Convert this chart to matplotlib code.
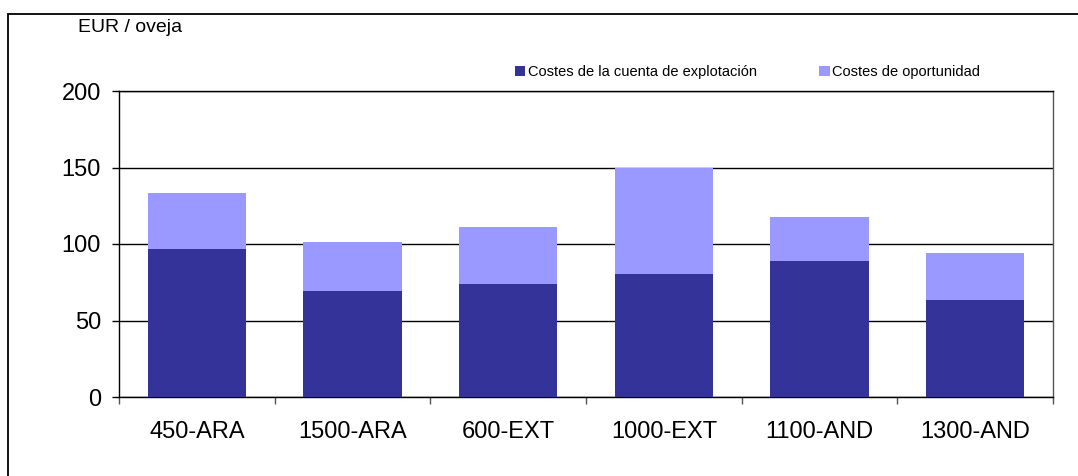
import numpy as np
import matplotlib.pyplot as plt
from matplotlib.patches import Rectangle

plt.rcParams['font.family'] = ['Liberation Sans', 'DejaVu Sans']

# datos
categorias = ['450-ARA', '1500-ARA', '600-EXT', '1000-EXT', '1100-AND', '1300-AND']
costes_explotacion = [96.7, 69.3, 73.9, 80.4, 88.9, 63.4]
costes_oportunidad = [36.6, 32.0, 36.9, 69.6, 28.7, 30.7]

color_oscuro = '#333399'
color_claro = '#9999FF'

fig = plt.figure(figsize=(10.78, 4.76), dpi=100)
ax = fig.add_axes([119/1078, 1-397/476, (1053-119)/1078, (397-91)/476])

x = np.arange(len(categorias))
ancho = 0.63
ax.bar(x, costes_explotacion, ancho, color=color_oscuro,
       label='Costes de la cuenta de explotación', zorder=3)
ax.bar(x, costes_oportunidad, ancho, bottom=costes_explotacion, color=color_claro,
       label='Costes de oportunidad', zorder=3)

ax.set_xlim(-0.5, len(categorias) - 0.5)
ax.set_ylim(0, 200)
ax.set_yticks([0, 50, 100, 150, 200])
ax.yaxis.grid(True, color='black', linewidth=1, zorder=0)

ax.set_xticks(x)
ax.set_xticklabels(categorias)
ax.set_xticks(np.arange(len(categorias) + 1) - 0.5, minor=True)
ax.tick_params(axis='x', which='major', length=0, pad=17, labelsize=17)
ax.tick_params(axis='x', which='minor', length=5, width=1, direction='out', color='#555555')
ax.tick_params(axis='y', length=5, width=1, direction='out', pad=8, labelsize=17)

for s in ax.spines.values():
    s.set_linewidth(1)
    s.set_color('black')
ax.spines['right'].set_color('#555555')

fig.text(78/1078, 1-27/476, 'EUR / oveja', fontsize=14, va='center', ha='left')

fig.legend(loc='center', bbox_to_anchor=((510+985)/2/1078, 1-72/476), ncol=2,
           frameon=False, fontsize=10.5, handlelength=0.75, handleheight=0.75,
           handletextpad=0.2, columnspacing=4.2)

# marco exterior del grafico
fig.patches.append(Rectangle((8/1078, -0.1), 1.2, 1-14/476 + 0.1, transform=fig.transFigure,
                             fill=False, edgecolor='black', linewidth=1.3))

fig.savefig('out.png', dpi=100)
